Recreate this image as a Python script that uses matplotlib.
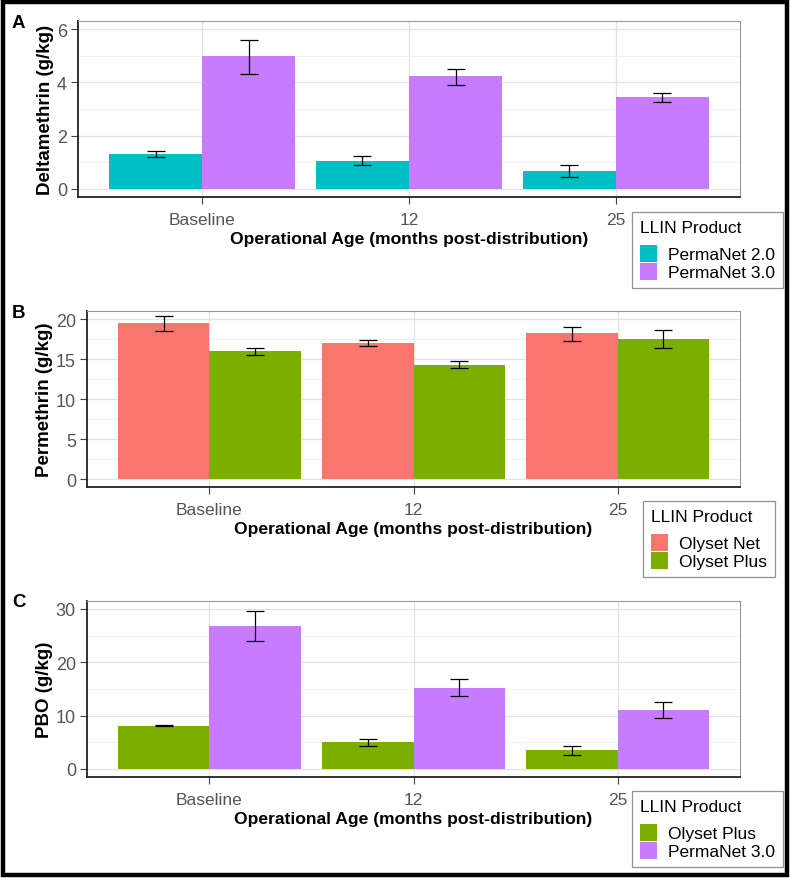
import matplotlib

matplotlib.use("Agg")
import matplotlib.pyplot as plt
import numpy as np
from matplotlib.patches import Patch, Rectangle

plt.rcParams["font.family"] = ["Liberation Sans", "DejaVu Sans"]

# operational age categories
ages = ["Baseline", "12", "25"]

# panel A: deltamethrin (g/kg)
pn2_delta = [1.31, 1.05, 0.69]
pn2_delta_lo = [1.20, 0.90, 0.44]
pn2_delta_hi = [1.43, 1.24, 0.91]
pn3_delta = [4.99, 4.25, 3.45]
pn3_delta_lo = [4.31, 3.91, 3.27]
pn3_delta_hi = [5.59, 4.51, 3.60]

# panel B: permethrin (g/kg)
on_perm = [19.5, 17.1, 18.25]
on_perm_lo = [18.6, 16.67, 17.25]
on_perm_hi = [20.4, 17.45, 19.1]
op_perm = [16.1, 14.33, 17.6]
op_perm_lo = [15.6, 13.9, 16.4]
op_perm_hi = [16.4, 14.8, 18.66]

# panel C: PBO (g/kg)
op_pbo = [8.15, 5.02, 3.58]
op_pbo_lo = [7.97, 4.33, 2.70]
op_pbo_hi = [8.28, 5.70, 4.27]
pn3_pbo = [26.8, 15.25, 11.1]
pn3_pbo_lo = [23.97, 13.7, 9.5]
pn3_pbo_hi = [29.7, 16.95, 12.5]

TEAL = "#00BFC4"
PURPLE = "#C77CFF"
RED = "#F8766D"
GREEN = "#7CAE00"

W, H = 790, 879
fig = plt.figure(figsize=(W / 100, H / 100), dpi=100, facecolor="white")


def px_axes(left, top, right, bottom):
    return fig.add_axes([left / W, 1 - bottom / H, (right - left) / W, (bottom - top) / H])


def draw_panel(ax, series, ylabel, ylim, yticks, yminor):
    x = np.arange(len(ages))
    bw = 0.45
    for i, (vals, lo, hi, color) in enumerate(series):
        xs = x + (i - 0.5) * bw
        ax.bar(xs, vals, width=bw, color=color, zorder=2)
        err = [np.array(vals) - np.array(lo), np.array(hi) - np.array(vals)]
        ax.errorbar(xs, vals, yerr=err, fmt="none", ecolor="black",
                    elinewidth=0.9, capsize=6.8, capthick=0.9, zorder=3)
    ax.set_xlim(-0.6, 2.6)
    ax.set_ylim(*ylim)
    ax.set_xticks(x)
    ax.set_xticklabels(ages)
    ax.set_yticks(yticks)
    ax.set_yticks(yminor, minor=True)
    ax.grid(which="major", color="#E3E3E3", linewidth=0.9, zorder=0)
    ax.grid(which="minor", axis="y", color="#EFEFEF", linewidth=0.6, zorder=0)
    ax.set_axisbelow(True)
    ax.tick_params(which="major", length=5, width=0.8, color="#444444",
                   labelcolor="#555555")
    ax.tick_params(axis="x", labelsize=12.5, pad=6)
    ax.tick_params(axis="y", labelsize=13, pad=3)
    ax.tick_params(which="minor", length=0)
    for s in ("left", "bottom"):
        ax.spines[s].set_color("#222222")
        ax.spines[s].set_linewidth(1.3)
    for s in ("top", "right"):
        ax.spines[s].set_color("#999999")
        ax.spines[s].set_linewidth(0.8)
    ax.set_ylabel(ylabel, fontsize=13.5, fontweight="bold", labelpad=2)
    ax.set_xlabel("Operational Age (months post-distribution)", fontsize=12.6,
                  fontweight="bold", labelpad=3)


def add_legend(labels, colors, left, top):
    handles = [Patch(facecolor=c, edgecolor="none") for c in colors]
    leg = fig.legend(handles, labels, title="LLIN Product", loc="upper left",
                     bbox_to_anchor=(left / W, 1 - top / H), frameon=True,
                     fancybox=False, edgecolor="#777777", fontsize=12.5,
                     title_fontsize=12.5, handlelength=1.0, handleheight=1.15,
                     handletextpad=0.65, labelspacing=0.05, borderpad=0.45,
                     borderaxespad=0, alignment="left")
    leg.get_frame().set_linewidth(0.9)
    leg._legend_box.sep = 7


ax_a = px_axes(78, 22, 740, 198)
draw_panel(ax_a, [(pn2_delta, pn2_delta_lo, pn2_delta_hi, TEAL),
                  (pn3_delta, pn3_delta_lo, pn3_delta_hi, PURPLE)],
           "Deltamethrin (g/kg)", (-0.3, 6.3), [0, 2, 4, 6], [1, 3, 5])
add_legend(["PermaNet 2.0", "PermaNet 3.0"], [TEAL, PURPLE], 632, 213)

ax_b = px_axes(87, 312, 740, 488)
draw_panel(ax_b, [(on_perm, on_perm_lo, on_perm_hi, RED),
                  (op_perm, op_perm_lo, op_perm_hi, GREEN)],
           "Permethrin (g/kg)", (-0.98, 21.05), [0, 5, 10, 15, 20],
           [2.5, 7.5, 12.5, 17.5])
add_legend(["Olyset Net", "Olyset Plus"], [RED, GREEN], 643, 502)

ax_c = px_axes(87, 602, 740, 778)
draw_panel(ax_c, [(op_pbo, op_pbo_lo, op_pbo_hi, GREEN),
                  (pn3_pbo, pn3_pbo_lo, pn3_pbo_hi, PURPLE)],
           "PBO (g/kg)", (-1.5, 31.5), [0, 10, 20, 30], [5, 15, 25])
add_legend(["Olyset Plus", "PermaNet 3.0"], [GREEN, PURPLE], 632, 792)

# panel letters
for letter, y in (("A", 24), ("B", 313), ("C", 603)):
    fig.text(12 / W, 1 - y / H, letter, fontsize=13.5, fontweight="bold",
             ha="left", va="center")

# outer frame
fig.patches.append(Rectangle((2.5 / W, 3.5 / H), 1 - 5.5 / W, 1 - 6 / H,
                             transform=fig.transFigure, fill=False,
                             edgecolor="black", linewidth=3.2))

fig.savefig("out.png", dpi=100, facecolor="white")
